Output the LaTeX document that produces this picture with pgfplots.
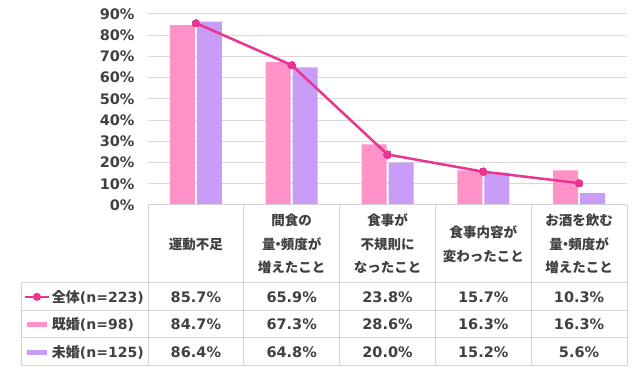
\documentclass[border=0pt]{standalone}
\usepackage{pgfplots}
\pgfplotsset{compat=1.18}
\usepackage{fontspec}
\setmainfont{DejaVu Sans}
\newfontfamily\jp{Noto Sans CJK JP}
\definecolor{pinkc}{HTML}{FF92C8}
\definecolor{purpc}{HTML}{C99CF8}
\definecolor{linec}{HTML}{EA3590}
\definecolor{txt}{HTML}{404040}
\definecolor{gridc}{HTML}{D9D9D9}
\definecolor{tabc}{HTML}{D4D4D4}
\newcommand{\numf}{\fontsize{14.5}{16}\selectfont\bfseries\color{txt}}
\newcommand{\dt}{\kern-0.3em・\kern-0.3em}
\begin{document}
\begin{tikzpicture}
\path[use as bounding box] (0pt,0pt) rectangle (640pt,374pt);
\begin{axis}[
  at={(148pt,169pt)}, anchor=south west,
  scale only axis, width=479pt, height=191pt,
  xmin=-0.5, xmax=4.5, ymin=0, ymax=90,
  axis line style={draw=none},
  ytick={0,10,...,90},
  ymajorgrids, grid style={gridc, line width=1pt},
  major tick length=0pt,
  yticklabel={\pgfmathprintnumber{\tick}\%},
  /pgf/number format/assume math mode=true,
  yticklabel style={font=\fontsize{14.5}{16}\selectfont\bfseries, text=txt, xshift=-10pt},
  xtick={0,1,2,3,4},
  xticklabels={{運動不足},{間食の\\量\dt 頻度が\\増えたこと},{食事が\\不規則に\\なったこと},{食事内容が\\変わったこと},{お酒を飲む\\量\dt 頻度が\\増えたこと}},
  xticklabel style={font=\jp\bfseries\fontsize{13.5}{23.5}\selectfont, text=txt, align=center, anchor=center, yshift=-39pt},
  clip=false,
  legend style={at={(axis description cs:-0.2589,-0.4084)}, anchor=north west,
    draw=none, fill=none, inner sep=0pt, outer sep=0pt, column sep=2pt, row sep=0pt,
    font=\fontsize{14}{16}\selectfont\bfseries, text=txt,
    nodes={inner sep=0pt, minimum height=27.7pt}},
  legend cell align=left,
]
\addlegendimage{linec, line width=2pt,
  legend image code/.code={\draw[linec, line width=2pt] (0pt,0pt) -- (24pt,0pt); \fill[linec] (12pt,0pt) circle (3pt);}}
\addlegendentry{{\jp\bfseries 全体}(n=223)}
\addlegendimage{fill=pinkc, draw=none,
  legend image code/.code={\fill[pinkc] (2pt,-2.5pt) rectangle (22pt,2.5pt); \path (0pt,0pt) -- (24pt,0pt);}}
\addlegendentry{{\jp\bfseries 既婚}(n=98)}
\addlegendimage{fill=purpc, draw=none,
  legend image code/.code={\fill[purpc] (2pt,-2.5pt) rectangle (22pt,2.5pt); \path (0pt,0pt) -- (24pt,0pt);}}
\addlegendentry{{\jp\bfseries 未婚}(n=125)}

\addplot[ybar, forget plot, bar width=25pt, bar shift=-13.5pt, fill=pinkc, draw=none]
  coordinates {(0,84.7) (1,67.3) (2,28.6) (3,16.3) (4,16.3)};
\addplot[ybar, forget plot, bar width=25pt, bar shift=13.5pt, fill=purpc, draw=none]
  coordinates {(0,86.4) (1,64.8) (2,20.0) (3,15.2) (4,5.6)};
\addplot[forget plot, linec, line width=2.5pt, mark=*, mark size=3.8pt,
  mark options={solid, line width=0pt, fill=linec}]
  coordinates {(0,85.7) (1,65.9) (2,23.8) (3,15.7) (4,10.3)};
\end{axis}
% table grid
\begin{scope}[tabc, line width=1pt]
\draw (148pt,169pt) -- (627pt,169pt);
\draw (21pt,91pt) -- (627pt,91pt);
\draw (21pt,63.5pt) -- (627pt,63.5pt);
\draw (21pt,36pt) -- (627pt,36pt);
\draw (21pt,8pt) -- (627pt,8pt);
\draw (21pt,91pt) -- (21pt,8pt);
\foreach \x in {148,243.8,339.6,435.4,531.2,627} \draw (\x pt,169pt) -- (\x pt,8pt);
\end{scope}
% table values
\foreach \x/\a/\b/\c in {195.9/85.7/84.7/86.4, 291.7/65.9/67.3/64.8, 387.5/23.8/28.6/20.0, 483.3/15.7/16.3/15.2, 579.1/10.3/16.3/5.6}{
  \node[font=\numf] at (\x pt,77pt) {\a\%};
  \node[font=\numf] at (\x pt,50pt) {\b\%};
  \node[font=\numf] at (\x pt,22pt) {\c\%};
}
\end{tikzpicture}
\end{document}
